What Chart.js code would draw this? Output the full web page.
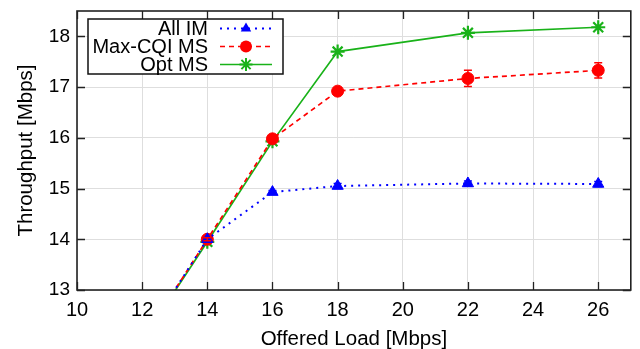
<!DOCTYPE html>
<html><head><meta charset="utf-8">
<script src="https://cdn.jsdelivr.net/npm/chart.js@4.4.1/dist/chart.umd.min.js"></script>
<style>html,body{margin:0;padding:0;background:#fff}#wrap{width:640px;height:349px}</style>
</head><body><div id="wrap"><canvas id="c" width="640" height="349"></canvas></div>
<script>
const loads = [12, 14, 16, 18, 22, 26];
const allIM = [12, 14.0, 14.93, 15.05, 15.10, 15.09];
const allIMErr = [0, 0.03, 0.03, 0.05, 0.05, 0.05];
const maxCQI = [12, 14.0, 15.98, 16.92, 17.17, 17.33];
const maxCQIErr = [0, 0.03, 0.04, 0.07, 0.16, 0.15];
const optMS = [12, 13.95, 15.93, 17.70, 18.07, 18.18];
const optMSErr = [0, 0, 0, 0, 0, 0];
const seriesNames = ['All IM', 'Max-CQI MS', 'Opt MS'];
const xTicks = [10, 12, 14, 16, 18, 20, 22, 24, 26];
const yTicks = [13, 14, 15, 16, 17, 18];

const FONT = '"Liberation Sans", Arial, Helvetica, sans-serif';
const pts = (ys) => loads.map((x, i) => ({x, y: ys[i]}));

const errPlugin = {
  id: 'err',
  afterDatasetsDraw(chart) {
    const ctx = chart.ctx, xs = chart.scales.x, ys = chart.scales.y, a = chart.chartArea;
    ctx.save();
    ctx.beginPath(); ctx.rect(a.left, a.top, a.right - a.left, a.bottom - a.top); ctx.clip();
    chart.data.datasets.forEach(ds => {
      ctx.strokeStyle = ds.borderColor; ctx.lineWidth = 1.5; ctx.setLineDash([]);
      ds.data.forEach((p, i) => {
        const e = ds.err[i]; if (!e) return;
        const px = xs.getPixelForValue(p.x);
        const y1 = ys.getPixelForValue(p.y - e), y2 = ys.getPixelForValue(p.y + e);
        ctx.beginPath();
        ctx.moveTo(px, y1); ctx.lineTo(px, y2);
        ctx.moveTo(px - 4, y1); ctx.lineTo(px + 4, y1);
        ctx.moveTo(px - 4, y2); ctx.lineTo(px + 4, y2);
        ctx.stroke();
      });
    });
    ctx.restore();
  }
};

function drawMarker(ctx, style, x, y, r, color) {
  ctx.save(); ctx.setLineDash([]);
  ctx.fillStyle = color; ctx.strokeStyle = color; ctx.lineWidth = 2;
  ctx.beginPath();
  if (style === 'triangle') {
    ctx.moveTo(x, y - r); ctx.lineTo(x + r * 0.87, y + r * 0.5); ctx.lineTo(x - r * 0.87, y + r * 0.5); ctx.closePath(); ctx.fill();
  } else if (style === 'circle') {
    ctx.arc(x, y, r, 0, Math.PI * 2); ctx.fill();
  } else {
    ctx.moveTo(x - r, y); ctx.lineTo(x + r, y); ctx.moveTo(x, y - r); ctx.lineTo(x, y + r);
    const d = r * 0.707;
    ctx.moveTo(x - d, y - d); ctx.lineTo(x + d, y + d); ctx.moveTo(x - d, y + d); ctx.lineTo(x + d, y - d);
    ctx.stroke();
  }
  ctx.restore();
}

const framePlugin = {
  id: 'frame',
  afterDraw(chart) {
    const ctx = chart.ctx, a = chart.chartArea, xs = chart.scales.x, ys = chart.scales.y;
    ctx.save();
    ctx.strokeStyle = '#222'; ctx.lineWidth = 1.6; ctx.setLineDash([]);
    ctx.strokeRect(a.left, a.top, a.right - a.left, a.bottom - a.top);
    ctx.beginPath();
    xTicks.forEach(v => { const px = Math.round(xs.getPixelForValue(v)) + 0.5;
      ctx.moveTo(px, a.bottom); ctx.lineTo(px, a.bottom - 8);
      ctx.moveTo(px, a.top); ctx.lineTo(px, a.top + 8); });
    yTicks.forEach(v => { const py = Math.round(ys.getPixelForValue(v)) + 0.5;
      ctx.moveTo(a.left, py); ctx.lineTo(a.left + 8, py);
      ctx.moveTo(a.right, py); ctx.lineTo(a.right - 8, py); });
    ctx.lineWidth = 1.3; ctx.stroke();
    // legend
    const bx = 88, by = 19, bw = 195, bh = 55;
    ctx.fillStyle = '#fff'; ctx.fillRect(bx, by, bw, bh);
    ctx.lineWidth = 1.5; ctx.strokeStyle = '#111'; ctx.strokeRect(bx, by, bw, bh);
    ctx.font = '20px ' + FONT; ctx.textAlign = 'right'; ctx.textBaseline = 'middle'; ctx.fillStyle = '#000';
    chart.data.datasets.forEach((ds, i) => {
      const yy = by + 9.5 + i * 18;
      ctx.fillText(ds.label, 208, yy + 1);
      ctx.save();
      ctx.strokeStyle = ds.borderColor; ctx.lineWidth = ds.borderWidth; ctx.setLineDash(ds.borderDash || []);
      ctx.beginPath(); ctx.moveTo(220, yy); ctx.lineTo(272, yy); ctx.stroke();
      ctx.restore();
      drawMarker(ctx, ds.pointStyle, 246, yy, ds.pointStyle === 'star' ? 6.5 : 6, ds.borderColor);
    });
    ctx.restore();
  }
};

new Chart(document.getElementById('c'), {
  type: 'line',
  data: {
    datasets: [
      { label: seriesNames[0], data: pts(allIM), err: allIMErr, borderColor: '#0000ff', backgroundColor: '#0000ff',
        borderWidth: 2, borderDash: [2, 5], pointStyle: 'triangle', pointRadius: 6.5, pointBorderWidth: 1 },
      { label: seriesNames[1], data: pts(maxCQI), err: maxCQIErr, borderColor: '#ff0000', backgroundColor: '#ff0000',
        borderWidth: 1.7, borderDash: [5, 4], pointStyle: 'circle', pointRadius: 6, pointBorderWidth: 1 },
      { label: seriesNames[2], data: pts(optMS), err: optMSErr, borderColor: '#19b219', backgroundColor: '#19b219',
        borderWidth: 1.7, pointStyle: 'star', pointRadius: 7, pointBorderWidth: 2.2 }
    ]
  },
  options: {
    responsive: false, animation: false, devicePixelRatio: 1,
    layout: { padding: { top: 11, right: 7, left: 0, bottom: 0 } },
    plugins: { legend: { display: false }, tooltip: { enabled: false } },
    elements: { line: { tension: 0 } },
    scales: {
      x: { type: 'linear', min: 10, max: 27,
        afterBuildTicks: s => { s.ticks = xTicks.map(v => ({value: v})); },
        afterFit: s => { s.height = 59; s.paddingLeft = 0; s.paddingRight = 0; },
        grid: { color: '#dedede', lineWidth: 1, drawTicks: false },
        border: { display: false },
        ticks: { padding: 8, color: '#000', font: { family: FONT, size: 20 }, maxRotation: 0 },
        title: { display: true, text: 'Offered Load [Mbps]', color: '#000', font: { family: FONT, size: 20.5 }, padding: { top: 0, bottom: -3 } }
      },
      y: { type: 'linear', min: 13, max: 18.5,
        afterBuildTicks: s => { s.ticks = yTicks.map(v => ({value: v})); },
        afterFit: s => { s.width = 77; s.paddingTop = 0; s.paddingBottom = 0; },
        grid: { color: '#dedede', lineWidth: 1, drawTicks: false },
        border: { display: false },
        ticks: { padding: 7, color: '#000', font: { family: FONT, size: 19 } },
        title: { display: true, text: 'Throughput [Mbps]', color: '#000', font: { family: FONT, size: 20.5 }, padding: { top: 14, bottom: 0 } }
      }
    }
  },
  plugins: [errPlugin, framePlugin]
});
</script></body></html>
